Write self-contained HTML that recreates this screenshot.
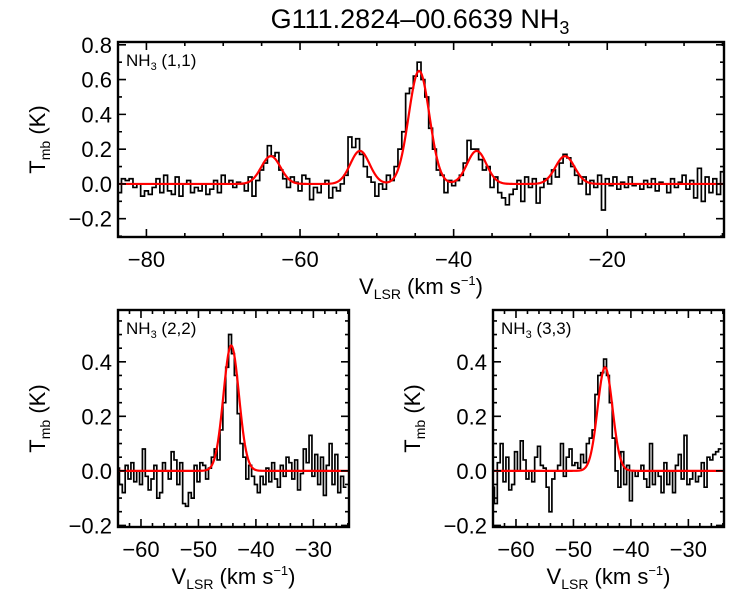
<!DOCTYPE html>
<html><head><meta charset="utf-8"><style>
body{margin:0;background:#fff}
svg text{font-family:"Liberation Sans",Arial,sans-serif;fill:#000}
</style></head><body>
<svg id="s" width="750" height="600" xmlns="http://www.w3.org/2000/svg">
<text x="420" y="28" font-size="27" text-anchor="middle">G111.2824–00.6639 NH<tspan font-size="18" dy="6">3</tspan></text>
</svg>
<script>
// ---- data ----
const topStart=-83.5, topStep=0.5;
const topValues=[-0.05,0.03,0.02,0.03,-0.02,0.0,-0.07,-0.04,-0.06,-0.02,0.03,-0.05,0.05,-0.04,-0.06,0.04,-0.07,0.0,0.02,-0.05,-0.02,-0.04,0.0,-0.06,-0.03,0.02,-0.05,0.05,0.0,0.02,-0.02,0.01,0.0,-0.04,0.04,-0.07,
0.02,0.08,0.12,0.22,0.16,0.18,0.08,0.03,-0.02,0.04,
0.01,-0.04,0.05,0.03,-0.09,-0.02,-0.05,0.0,0.02,-0.08,-0.02,-0.04,
0.0,0.05,0.27,0.21,0.26,0.17,0.1,0.04,0.01,-0.07,
0.0,-0.03,0.05,0.02,0.1,0.2,0.3,0.52,0.55,0.62,0.7,0.6,0.5,0.32,0.2,0.08,0.05,-0.05,0.02,-0.01,0.02,0.05,0.12,0.25,0.2,0.2,0.14,0.08,0.1,-0.02,0.04,-0.05,-0.08,-0.12,-0.06,-0.03,0.02,-0.1,0.04,-0.02,0.03,-0.11,-0.02,0.03,0.0,0.08,0.04,0.12,0.17,0.15,0.1,0.05,0.0,0.04,-0.06,0.02,-0.02,0.05,-0.15,0.03,-0.01,0.04,
-0.03,0.01,-0.02,0.04,-0.01,0.0,-0.03,0.02,-0.02,0.03,-0.04,0.01,0.0,-0.05,0.03,-0.02,0.01,0.05,-0.03,0.02,-0.08,0.09,-0.1,0.04,-0.05,0.03,-0.06,0.07];
const topCenters=[-63.8,-52.2,-44.5,-37.0,-25.5];
const topAmps=[0.16,0.19,0.65,0.19,0.16];
const topSigmas=[1.25,1.25,1.35,1.25,1.25];
const topXTicks=[-80,-60,-40,-20];
const topYTicks=[-0.2,0.0,0.2,0.4,0.6,0.8];

const botStart=-64, botStep=0.5;
const v22Values=[0.01,-0.05,-0.08,0.02,-0.03,0.03,-0.04,0.0,-0.05,0.08,-0.02,-0.07,-0.03,0.02,-0.1,-0.08,0.03,0.0,-0.03,0.07,0.04,-0.05,0.03,-0.12,-0.13,-0.08,-0.1,0.02,-0.04,0.03,
0.02,-0.03,0.01,0.05,0.08,0.04,0.15,0.25,0.38,0.5,0.43,0.35,0.21,0.1,0.05,-0.03,0.02,-0.02,-0.05,-0.08,
-0.02,-0.05,0.01,-0.04,0.03,-0.03,-0.06,0.02,-0.02,0.05,0.03,-0.03,0.04,-0.07,-0.01,0.08,0.03,0.13,-0.02,0.06,-0.05,0.05,-0.09,0.02,0.1,-0.05,0.06,-0.08,-0.02,-0.06];
const v22Centers=[-44.3], v22Amps=[0.46], v22Sigmas=[1.35];
const v33Values=[-0.06,-0.12,0.03,0.1,-0.04,0.05,-0.07,-0.05,0.07,0.0,0.11,0.04,-0.03,0.0,-0.04,0.05,0.09,0.02,0.01,-0.06,-0.15,-0.03,0.0,0.02,0.1,-0.02,0.05,0.08,0.02,0.03,
0.01,0.06,0.03,0.1,0.12,0.15,0.28,0.35,0.36,0.41,0.35,0.25,0.12,0.0,-0.06,0.07,-0.05,0.02,-0.11,0.0,
-0.02,0.0,0.02,-0.03,-0.06,0.1,-0.05,0.0,-0.02,-0.08,0.03,-0.05,0.0,-0.08,0.02,0.06,-0.03,0.13,-0.05,-0.03,0.0,-0.04,-0.02,0.03,-0.06,0.05,0.04,0.06,0.07,0.08];
const v33Centers=[-44.5], v33Amps=[0.38], v33Sigmas=[1.3];
const botXTicks=[-60,-50,-40,-30];
const botYTicks=[-0.2,0.0,0.2,0.4];

// ---- drawing ----
const svg=document.getElementById('s');
const NS='http://www.w3.org/2000/svg';
function mk(tag,attrs,parent){const e=document.createElementNS(NS,tag);for(const k in attrs)e.setAttribute(k,attrs[k]);(parent||svg).appendChild(e);return e;}

function panel(o){
  const g=mk('g',{});
  
  
  const sx=v=>o.x0+(v-o.xmin)/(o.xmax-o.xmin)*(o.x1-o.x0);
  const sy=v=>o.y1-(v-o.ymin)/(o.ymax-o.ymin)*(o.y1-o.y0);
  let d='';
  o.values.forEach((val,i)=>{
    const c=o.start+i*o.step;
    const xa=Math.max(o.x0,sx(c-o.step/2)), xb=Math.min(o.x1,sx(c+o.step/2)), y=sy(val);
    d+=(i===0?'M'+xa+','+y:'V'+y)+'H'+xb;
  });
  const h=mk('path',{d:d,fill:'none',stroke:'#000','stroke-width':1.7},g);
  
  
  let m='';
  for(let px=o.x0;px<=o.x1;px+=1){
    const v=o.xmin+(px-o.x0)/(o.x1-o.x0)*(o.xmax-o.xmin);
    let t=0;o.centers.forEach((c,k)=>{t+=o.amps[k]*Math.exp(-0.5*Math.pow((v-c)/o.sigmas[k],2));});
    m+=(px===o.x0?'M':'L')+px+','+sy(t).toFixed(2);
  }
  const f=mk('path',{d:m,fill:'none',stroke:'#f00','stroke-width':2.2},g);
  
  
  const fr=mk('rect',{x:o.x0,y:o.y0,width:o.x1-o.x0,height:o.y1-o.y0,fill:'none',stroke:'#000','stroke-width':2.4},g);
  
  
  let td='';
  for(let v=Math.ceil(o.xmin/o.xminor)*o.xminor;v<=o.xmax;v+=o.xminor){
    const major=Math.abs(v/o.xmajor-Math.round(v/o.xmajor))<1e-6;const L=major?8:4;const x=sx(v);
    td+=`M${x},${o.y1}v${-L}M${x},${o.y0}v${L}`;
  }
  for(let v=Math.ceil(o.ymin/o.yminor-1e-9)*o.yminor;v<=o.ymax+1e-9;v+=o.yminor){
    const major=Math.abs(v/o.ymajor-Math.round(v/o.ymajor))<1e-6;const L=major?8:4;const y=sy(v);
    td+=`M${o.x0},${y}h${L}M${o.x1},${y}h${-L}`;
  }
  mk('path',{d:td,stroke:'#000','stroke-width':1.6,fill:'none'},g);
  o.xticks.forEach(v=>{const t=mk('text',{x:sx(v),y:o.y1+30,'font-size':22,'text-anchor':'middle'},g);t.textContent=String(v).replace('-','−');
    });
  o.yticks.forEach(v=>{const t=mk('text',{x:o.x0-6,y:sy(v)+8,'font-size':22,'text-anchor':'end'},g);t.textContent=v.toFixed(1).replace('-','−');
    });
  const lab=mk('text',{x:o.x0+8,y:o.y0+24,'font-size':17},g);
  lab.innerHTML='NH<tspan font-size="11" dy="4">3</tspan><tspan dy="-4"> '+o.label+'</tspan>';
  
  const xl=mk('text',{x:(o.x0+o.x1)/2,y:o.y1+57,'font-size':22,'text-anchor':'middle'},g);
  xl.innerHTML='V<tspan font-size="14" dy="5">LSR</tspan><tspan dy="-5"> (km s</tspan><tspan font-size="13" dy="-9">−1</tspan><tspan dy="9">)</tspan>';
  
  const yc=(o.y0+o.y1)/2, yx=o.x0-73;
  const yl=mk('text',{x:yx,y:yc,'font-size':22,'text-anchor':'middle',transform:`rotate(-90 ${yx} ${yc})`},g);
  yl.innerHTML='T<tspan font-size="14" dy="5">mb</tspan><tspan dy="-5"> (K)</tspan>';
  
}
panel({name:'nh3-11-panel',label:'(1,1)',x0:118,x1:724,y0:42,y1:237,xmin:-83.7,xmax:-4.8,ymin:-0.305,ymax:0.816,
  xmajor:20,xminor:5,ymajor:0.2,yminor:0.1,xticks:topXTicks,yticks:topYTicks,values:topValues,start:topStart,step:topStep,
  centers:topCenters,amps:topAmps,sigmas:topSigmas});
panel({name:'nh3-22-panel',label:'(2,2)',x0:118,x1:349,y0:310,y1:527,xmin:-64,xmax:-23.8,ymin:-0.206,ymax:0.59,
  xmajor:10,xminor:2,ymajor:0.2,yminor:0.05,xticks:botXTicks,yticks:botYTicks,values:v22Values,start:botStart,step:botStep,
  centers:v22Centers,amps:v22Amps,sigmas:v22Sigmas});
panel({name:'nh3-33-panel',label:'(3,3)',x0:493,x1:724,y0:310,y1:527,xmin:-64,xmax:-23.8,ymin:-0.206,ymax:0.59,
  xmajor:10,xminor:2,ymajor:0.2,yminor:0.05,xticks:botXTicks,yticks:botYTicks,values:v33Values,start:botStart,step:botStep,
  centers:v33Centers,amps:v33Amps,sigmas:v33Sigmas});
</script>
</body></html>
